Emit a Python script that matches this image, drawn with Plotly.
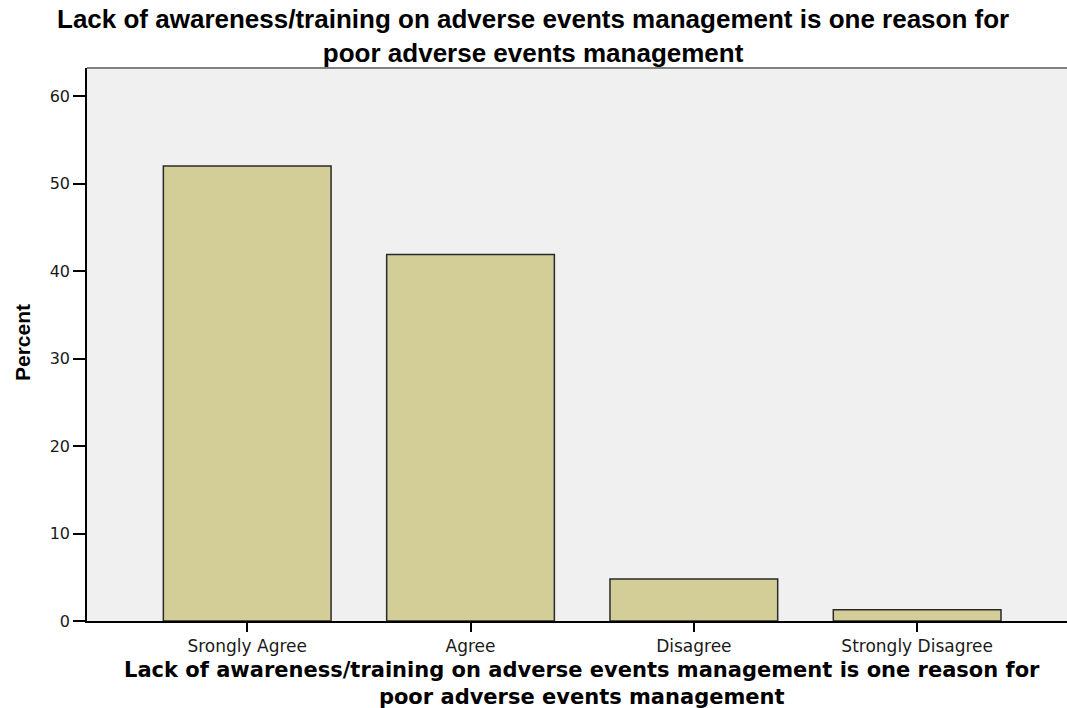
import plotly.graph_objects as go

categories = ["Srongly Agree", "Agree", "Disagree", "Strongly Disagree"]
percent = [52.0, 41.9, 4.8, 1.3]
y_ticks = [0, 10, 20, 30, 40, 50, 60]

title_lines = ["Lack of awareness/training on adverse events management is one reason for",
               "poor adverse events management"]
y_title = "Percent"

L, R, T, B = 87, 0, 68, 87
W, H = 1067, 708
PH = H - T - B


def py(p):
    # pixel row -> paper y
    return (H - B - p) / PH


def px(p):
    return (p - L) / (W - L - R)


fig = go.Figure(go.Bar(
    x=categories, y=percent,
    marker=dict(color="#d3cd98", line=dict(color="#2a2a2a", width=1.5)),
    width=0.751,
))

fig.update_layout(
    width=W, height=H,
    margin=dict(l=L, r=R, t=T, b=B, autoexpand=False),
    paper_bgcolor="white", plot_bgcolor="#f0f0f0",
    showlegend=False,
    xaxis=dict(
        range=[-0.7174, 3.671], showline=True, linecolor="black", linewidth=1.5,
        ticks="outside", ticklen=9, tickcolor="black", tickwidth=1.5,
        tickfont=dict(family="DejaVu Sans, Verdana", size=17, color="#1a1a1a"),
        showgrid=False, zeroline=False, automargin=False,
    ),
    yaxis=dict(
        range=[0, 63.2], tickvals=y_ticks, showline=True, linecolor="black", linewidth=1.5,
        ticks="outside", ticklen=12, tickcolor="black", tickwidth=1.5,
        tickfont=dict(family="DejaVu Sans, Verdana", size=16, color="#1a1a1a"),
        showgrid=False, zeroline=False, automargin=False,
    ),
)

title_html = "<b>" + "<br>".join(title_lines) + "</b>"

# chart title
fig.add_annotation(text=title_html, xref="paper", yref="paper",
                   x=px(533), y=py(36), xanchor="center", yanchor="middle",
                   showarrow=False, align="center",
                   font=dict(family="Liberation Sans, Arial", size=26, color="black"))

# x axis title
fig.add_annotation(text=title_html, xref="paper", yref="paper",
                   x=px(582), y=py(683), xanchor="center", yanchor="middle",
                   showarrow=False, align="center",
                   font=dict(family="DejaVu Sans, Verdana", size=21, color="black"))

# y axis title
fig.add_annotation(text="<b>" + y_title + "</b>", xref="paper", yref="paper",
                   x=px(22), y=py(343), xanchor="center", yanchor="middle",
                   textangle=-90, showarrow=False,
                   font=dict(family="Liberation Sans, Arial", size=21, color="black"))

fig.add_shape(type="line", xref="paper", yref="paper", x0=0, x1=1, y0=1, y1=1,
              line=dict(color="#808080", width=2))

fig.write_html("out.html", config={"displayModeBar": False},
               post_script="document.body.style.margin='0';document.body.style.overflow='hidden';")
